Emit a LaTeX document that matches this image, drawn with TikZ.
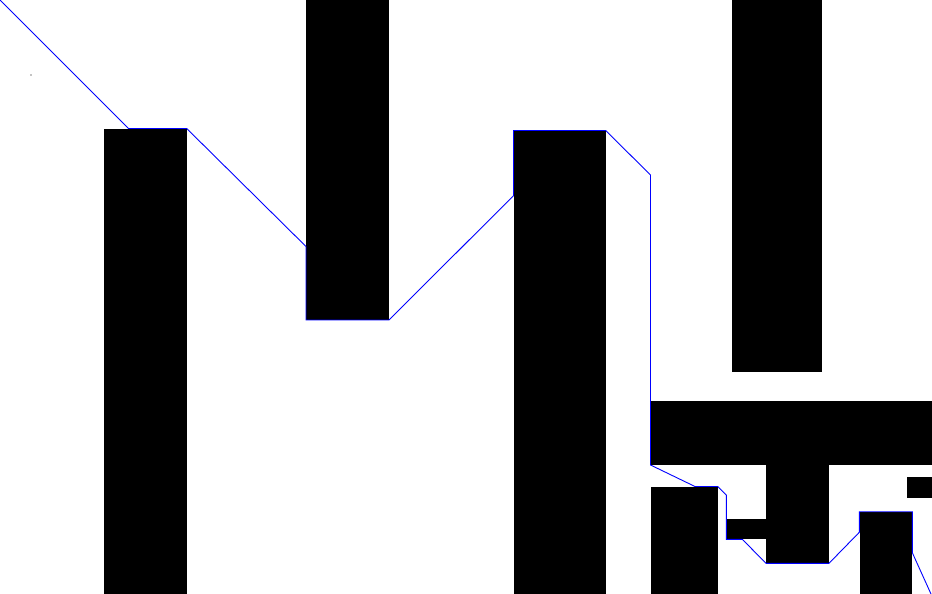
\documentclass[tikz,border=0pt]{standalone}
\begin{document}
\begin{tikzpicture}[x=1pt,y=-1pt,
  obstacle/.style={fill=black,draw=none},
  route/.style={draw=blue,line width=0.9pt,line join=miter}]
\useasboundingbox (0,0) rectangle (932,594);
\fill[white] (0,0) rectangle (932,594);
% obstacles
\path[obstacle] (104,129) rectangle (187,594);
\path[obstacle] (306,0) rectangle (389,320);
\path[obstacle] (514,131) rectangle (606,594);
\path[obstacle] (732,0) rectangle (822,372);
\path[obstacle] (651,401) rectangle (932,465);
\path[obstacle] (766,465) rectangle (829,563);
\path[obstacle] (727,519) rectangle (766,539);
\path[obstacle] (651,487) rectangle (718,594);
\path[obstacle] (907,477) rectangle (932,498);
\path[obstacle] (860,512) rectangle (912,594);
% tiny dot
\fill[black] (31,75) circle (0.6);
% route
\coordinate (s) at (0,0);
\coordinate (g) at (931,594);
\draw[route] (s) -- (128.5,128.5) -- (186.7,128.5) -- (306,246.5) -- (306,320)
  -- (389,320) -- (513.5,195.7) -- (513.5,130.5) -- (605.7,130.5)
  -- (650.5,175) -- (650.5,465) -- (695,486.5) -- (717.7,486.5)
  -- (726.3,495) -- (726.3,539.3) -- (742.3,539.3) -- (766,563.3)
  -- (829,563.3) -- (859.3,532.3) -- (859.3,511.7) -- (912.3,511.7)
  -- (912.3,552.7) -- (g);
\end{tikzpicture}
\end{document}
